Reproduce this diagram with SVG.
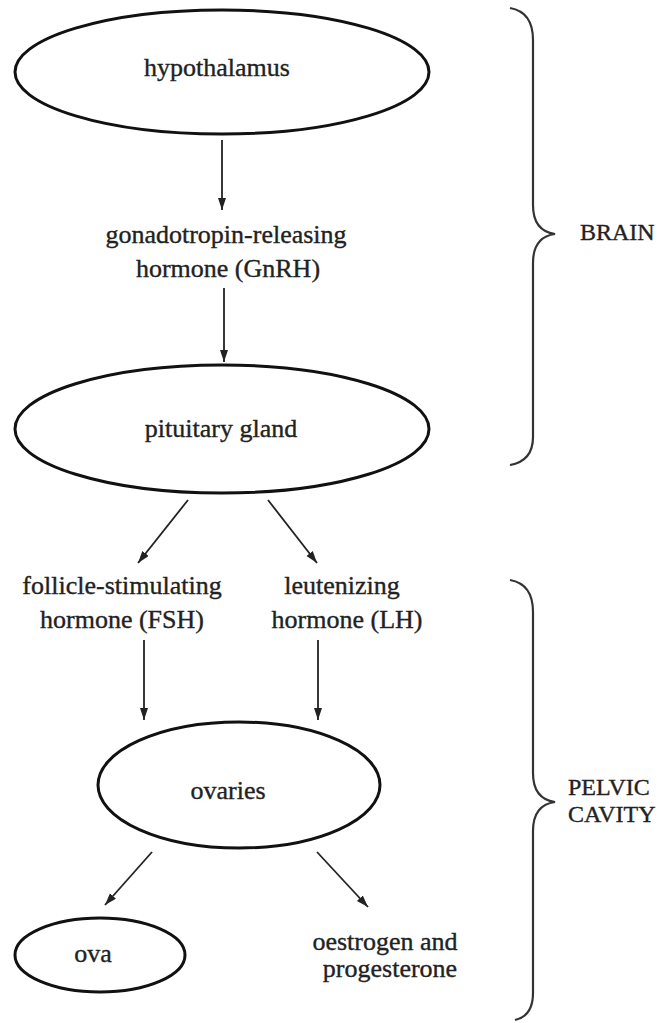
<svg xmlns="http://www.w3.org/2000/svg" width="658" height="1023" viewBox="0 0 658 1023">
<style>
.node{fill:none;stroke:#111;stroke-width:3}
.lbl{font-family:'Liberation Serif','DejaVu Serif','Noto Serif',Times,serif;font-size:26px;fill:#222;stroke:#222;stroke-width:0.35;text-anchor:middle}
.reg{font-family:'Liberation Serif','DejaVu Serif','Noto Serif',Times,serif;font-size:24px;fill:#222;stroke:#222;stroke-width:0.35}
.conn{fill:none;stroke:#222;stroke-width:1.8}
.brace{fill:none;stroke:#333;stroke-width:2.2}
</style>
<defs>
<marker id="ah" markerUnits="userSpaceOnUse" markerWidth="13" markerHeight="10" refX="12" refY="4" orient="auto">
<path d="M0,0 L12,4 L0,8 Z" fill="#222"/>
</marker>
</defs>
<rect width="658" height="1023" fill="#fff"/>
<g id="hypothalamus">
<ellipse class="node" cx="222" cy="72" rx="207" ry="62"/>
<text class="lbl" x="217" y="76">hypothalamus</text>
</g>
<g id="gnrh">
<text class="lbl" x="226" y="243">gonadotropin-releasing</text>
<text class="lbl" x="228" y="277">hormone (GnRH)</text>
</g>
<g id="pituitary">
<ellipse class="node" cx="222" cy="429" rx="207" ry="64"/>
<text class="lbl" x="221" y="437">pituitary gland</text>
</g>
<g id="fsh">
<text class="lbl" x="122" y="594">follicle-stimulating</text>
<text class="lbl" x="122" y="628">hormone (FSH)</text>
</g>
<g id="lh">
<text class="lbl" x="342" y="594">leutenizing</text>
<text class="lbl" x="347" y="628">hormone (LH)</text>
</g>
<g id="ovaries">
<ellipse class="node" cx="239" cy="785" rx="141" ry="63"/>
<text class="lbl" x="228" y="799">ovaries</text>
</g>
<g id="ova">
<ellipse class="node" cx="100" cy="955" rx="85" ry="37"/>
<text class="lbl" x="93" y="962">ova</text>
</g>
<g id="hormones">
<text class="lbl" x="385" y="950">oestrogen and</text>
<text class="lbl" x="390" y="977">progesterone</text>
</g>
<g id="brain">
<path class="brace" d="M510,8 Q533,12 533,40 L533,205 Q533,231 555,234 Q533,237 533,263 L533,437 Q533,461 510,465"/>
<text class="reg" x="580" y="240">BRAIN</text>
</g>
<g id="pelvic">
<path class="brace" d="M510,580 Q533,584 533,612 L533,773 Q533,799 555,802 Q533,805 533,831 L533,993 Q533,1016 515,1020"/>
<text class="reg" x="568" y="795">PELVIC</text>
<text class="reg" x="568" y="822">CAVITY</text>
</g>
<g id="connectors">
<line class="conn" x1="222" y1="140" x2="222" y2="210" marker-end="url(#ah)"/>
<line class="conn" x1="224" y1="288" x2="224" y2="362" marker-end="url(#ah)"/>
<line class="conn" x1="188" y1="500" x2="138" y2="563" marker-end="url(#ah)"/>
<line class="conn" x1="268" y1="500" x2="317" y2="563" marker-end="url(#ah)"/>
<line class="conn" x1="144" y1="640" x2="144" y2="720" marker-end="url(#ah)"/>
<line class="conn" x1="318" y1="640" x2="318" y2="720" marker-end="url(#ah)"/>
<line class="conn" x1="152" y1="852" x2="105" y2="905" marker-end="url(#ah)"/>
<line class="conn" x1="317" y1="852" x2="368" y2="907" marker-end="url(#ah)"/>
</g>
</svg>
